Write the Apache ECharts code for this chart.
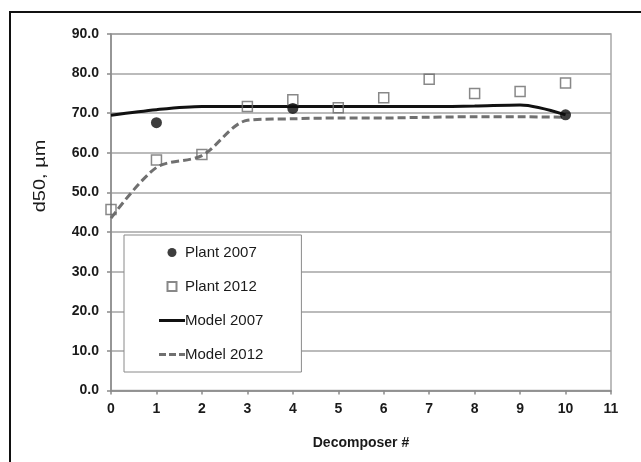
<!DOCTYPE html>
<html>
<head>
<meta charset="utf-8">
<script src="https://cdn.jsdelivr.net/npm/echarts@6/dist/echarts.min.js"></script>
<style>html,body{margin:0;padding:0;background:#fff;}#c{width:641px;height:462px;}</style>
</head>
<body>
<div id="c"></div>
<script>
// ---- data ----
const decomposers = [0, 1, 2, 3, 4, 5, 6, 7, 8, 9, 10];
const plant2007X = [1, 4, 10];
const plant2007 = [67.6, 71.2, 69.6];
const plant2012 = [45.7, 58.2, 59.6, 71.7, 73.4, 71.4, 73.9, 78.6, 75.0, 75.5, 77.6];
const model2007 = [69.5, 70.9, 71.7, 71.7, 71.7, 71.7, 71.7, 71.7, 71.8, 72.1, 69.6];
const model2012 = [43.5, 56.3, 59.3, 68.2, 68.6, 68.8, 68.8, 69.0, 69.1, 69.1, 69.0];
const seriesNames = ['Plant 2007', 'Plant 2012', 'Model 2007', 'Model 2012'];
const xTitle = 'Decomposer #';
const yTitle = 'd50, µm';

const pairs = (xs, ys) => xs.map((x, i) => [x, ys[i]]);

const chart = echarts.init(document.getElementById('c'), null, {renderer: 'canvas'});
const font = 'Liberation Sans, Arial, sans-serif';
chart.setOption({
  animation: false,
  backgroundColor: '#fff',
  grid: {left: 111, right: 30, top: 34, bottom: 71.5, show: true, borderColor: '#a8a8a8', borderWidth: 1.5, backgroundColor: '#fff'},
  xAxis: {
    type: 'value', min: 0, max: 11, interval: 1,
    name: xTitle, nameLocation: 'middle', nameGap: 46,
    nameTextStyle: {fontFamily: font, fontSize: 14, fontWeight: 'bold', color: '#1a1a1a'},
    axisLine: {show: true, lineStyle: {color: '#8a8a8a', width: 1.5}},
    axisTick: {show: true, length: 4, lineStyle: {color: '#8a8a8a', width: 1.5}},
    axisLabel: {margin: 12, fontFamily: font, fontSize: 14, fontWeight: 'bold', color: '#1a1a1a'},
    splitLine: {show: false}
  },
  yAxis: {
    type: 'value', min: 0, max: 90, interval: 10,
    axisLine: {show: true, lineStyle: {color: '#8a8a8a', width: 1.5}},
    axisTick: {show: true, length: 4, lineStyle: {color: '#8a8a8a', width: 1.5}},
    axisLabel: {margin: 12, fontFamily: font, fontSize: 14, fontWeight: 'bold', color: '#1a1a1a', formatter: v => v.toFixed(1)},
    splitLine: {show: true, lineStyle: {color: '#a4a4a4', width: 1.5}}
  },
  legend: {
    orient: 'vertical', left: 124, top: 235,
    padding: [10, 38, 10, 35], itemGap: 19, itemWidth: 26, itemHeight: 9,
    backgroundColor: '#fff', borderColor: '#8a8a8a', borderWidth: 1,
    data: [
      {name: seriesNames[0], icon: 'circle'},
      {name: seriesNames[1], icon: 'path://M0.75,0.75H9.25V9.25H0.75Z'},
      {name: seriesNames[2], icon: 'path://M0,0H26V3H0Z'},
      {name: seriesNames[3], icon: 'path://M0,0H7V3H0Z M10,0H17V3H10Z M20,0H26V3H20Z'}
    ],
    textStyle: {fontFamily: font, fontSize: 15, color: '#1a1a1a', padding: [0, 0, 0, -5]}
  },
  graphic: [
    {type: 'polyline', shape: {points: [[10, 462], [10, 12], [641, 12]]}, style: {stroke: '#111', lineWidth: 2, fill: null}, silent: true},
    {type: 'text', x: 41, y: 176, rotation: Math.PI / 2, scaleX: 1.25,
     style: {text: yTitle, font: '16px ' + font, fill: '#1a1a1a', textAlign: 'center', textVerticalAlign: 'middle'}}
  ],
  series: [
    {name: seriesNames[0], type: 'scatter', z: 5, data: pairs(plant2007X, plant2007),
     symbol: 'circle', symbolSize: 11, itemStyle: {color: '#0d0d0d'}},
    {name: seriesNames[1], type: 'scatter', z: 4, data: pairs(decomposers, plant2012),
     symbol: 'rect', symbolSize: 10, itemStyle: {color: 'rgba(255,255,255,0)', borderColor: '#6a6a6a', borderWidth: 1.5}},
    {name: seriesNames[2], type: 'line', z: 3, data: pairs(decomposers, model2007), smooth: 0.3,
     showSymbol: false, symbol: 'none', lineStyle: {color: '#111', width: 3}, itemStyle: {color: '#111'}},
    {name: seriesNames[3], type: 'line', z: 3, data: pairs(decomposers, model2012), smooth: 0.3,
     showSymbol: false, symbol: 'none', lineStyle: {color: '#707070', width: 3, type: [8, 4]}, itemStyle: {color: '#707070'}}
  ]
});
</script>
</body>
</html>
